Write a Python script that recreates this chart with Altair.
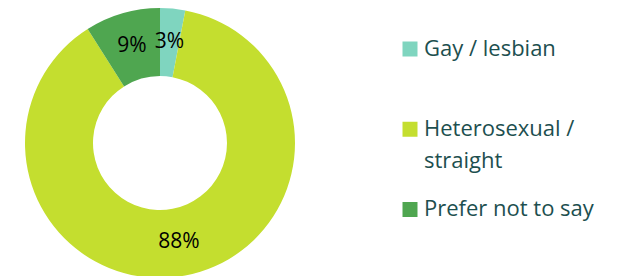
import altair as alt
import pandas as pd

categories = ["Gay / lesbian", "Heterosexual / straight", "Prefer not to say"]
values = [3, 88, 9]
labels = ["3%", "88%", "9%"]
colors = ["#7fd5bf", "#c4de2f", "#4fa650"]
legend_lines = [["Gay / lesbian"], ["Heterosexual /", "straight"], ["Prefer not to say"]]
order = [0, 1, 2]

FONT = "Open Sans"

df = pd.DataFrame({"category": categories, "value": values, "label": labels, "order": order})
color_scale = alt.Scale(domain=categories, range=colors)

base = alt.Chart(df).encode(
    theta=alt.Theta("value:Q", stack=True),
    order=alt.Order("order:Q"),
)
arcs = base.mark_arc(outerRadius=135, innerRadius=67).encode(
    color=alt.Color("category:N", scale=color_scale, legend=None)
)
texts = base.mark_text(radius=101, fontSize=21, font=FONT, color="black").encode(
    text="label:N"
)
donut = alt.layer(arcs, texts).properties(width=304, height=256)

leg_df = pd.DataFrame({"category": categories, "row": order, "lines": legend_lines})
leg_base = alt.Chart(leg_df).encode(
    y=alt.Y("row:Q", scale=alt.Scale(domain=[0, 2], range=[34, 194.5]), axis=None)
)
squares = leg_base.mark_square(size=225, opacity=1).encode(
    x=alt.value(98),
    color=alt.Color("category:N", scale=color_scale, legend=None),
)
leg_text = leg_base.mark_text(
    align="left", baseline="top", dy=-10.5, fontSize=22, font=FONT,
    color="#1d4f4f", lineHeight=32
).encode(x=alt.value(112), text="lines")
legend = alt.layer(squares, leg_text).properties(width=307, height=256)

chart = alt.hconcat(donut, legend, spacing=0).properties(
    padding=0
).configure_view(stroke=None)

chart.save("out.html", embed_options={"renderer": "svg", "actions": False})
